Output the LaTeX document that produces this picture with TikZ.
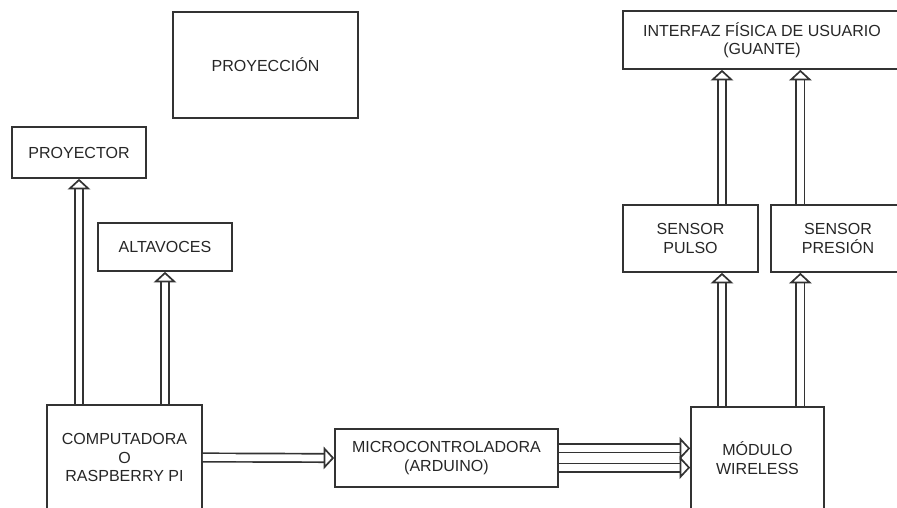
\documentclass[tikz,border=0pt]{standalone}
\usepackage{fontspec}
\setmainfont{Liberation Sans}
\usepackage{tikz}
\usetikzlibrary{arrows.meta, positioning}

\tikzset{
  block/.style={draw=black!80, line width=1.2pt, rectangle, align=center,
    inner sep=2pt, text=black!85, font=\fontsize{11.4}{13.2}\selectfont},
  pipe/.style={draw=black!80, line width=1.2pt, double=white, double distance=4.8pt,
    -{Triangle[open, width=16pt, length=7.5pt]}}
}

\begin{document}
\begin{tikzpicture}
  \useasboundingbox (0,0) rectangle (22.425,12.7);
  \clip (0,0) rectangle (22.425,12.7);

  % ---- top row ----
  \node[block, minimum width=4.625cm, minimum height=2.65cm] (proyeccion) at (6.6375,11.075) {PROYECCIÓN};
  \node[block, minimum width=6.95cm, minimum height=1.45cm] (interfaz) at (19.05,11.7) {INTERFAZ FÍSICA DE USUARIO\\(GUANTE)};

  % ---- outputs of the computer ----
  \node[block, minimum width=3.35cm, minimum height=1.275cm] (proyector) at (1.975,8.8875) {PROYECTOR};
  \node[block, minimum width=3.35cm, minimum height=1.2cm] (altavoces) at (4.125,6.525) {ALTAVOCES};

  % ---- sensors on the glove ----
  \node[block, minimum width=3.375cm, minimum height=1.675cm] (pulso) at (17.2625,6.7375) {SENSOR\\PULSO};
  \node[block, minimum width=3.35cm, minimum height=1.675cm] (presion) at (20.95,6.7375) {SENSOR\\PRESIÓN};

  % ---- bottom row ----
  \node[block, minimum width=3.875cm, minimum height=2.625cm] (computadora) at (3.1125,1.2625) {COMPUTADORA\\O\\RASPBERRY PI};
  \node[block, minimum width=5.575cm, minimum height=1.45cm] (micro) at (11.1625,1.25) {MICROCONTROLADORA\\(ARDUINO)};
  \node[block, minimum width=3.325cm, minimum height=2.55cm] (modulo) at (18.9375,1.25) {MÓDULO\\WIRELESS};

  % vertical lanes on the glove side
  \coordinate (laneA) at (18.05,0);
  \coordinate (laneB) at (20.01,0);

  % ---- connections ----
  \draw[pipe] (proyector.south |- computadora.north) -- (proyector.south);
  \draw[pipe] (altavoces.south |- computadora.north) -- (altavoces.south);
  \draw[pipe] (computadora.east) -- (micro.west);
  \draw[pipe] ([yshift=2.4mm]micro.east) -- ([yshift=2.4mm]modulo.west);
  \draw[pipe] ([yshift=-2.4mm]micro.east) -- ([yshift=-2.4mm]modulo.west);
  \draw[pipe] (laneA |- modulo.north) -- (laneA |- pulso.south);
  \draw[pipe] (laneB |- modulo.north) -- (laneB |- presion.south);
  \draw[pipe] (laneA |- pulso.north) -- (laneA |- interfaz.south);
  \draw[pipe] (laneB |- presion.north) -- (laneB |- interfaz.south);
\end{tikzpicture}
\end{document}
